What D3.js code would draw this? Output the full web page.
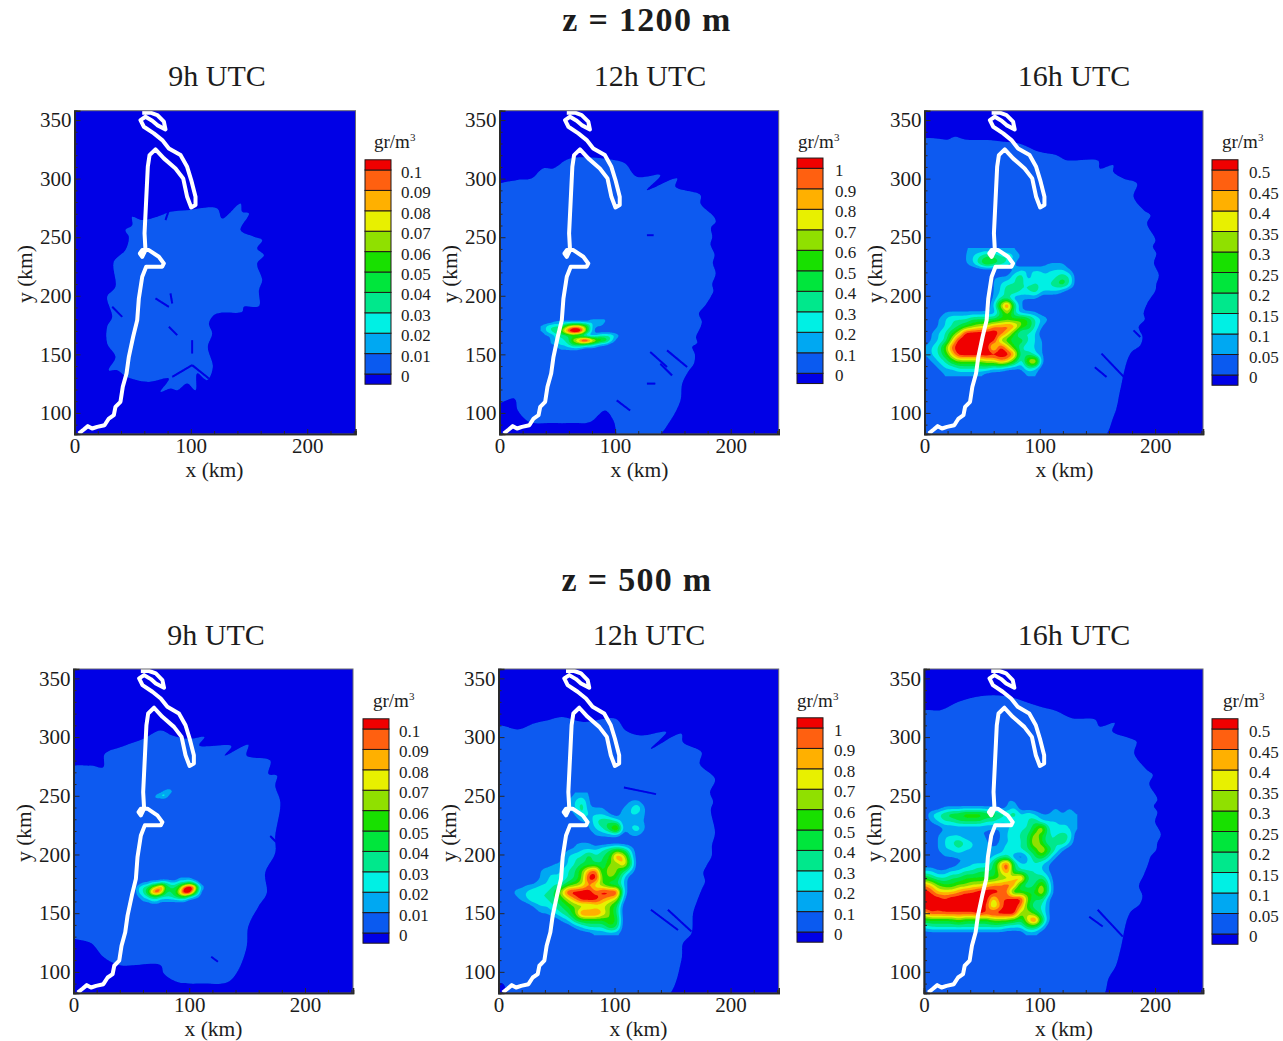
<!DOCTYPE html>
<html lang="en">
<head>
<meta charset="UTF-8">
<title>z = 1200 m / z = 500 m</title>
<script src="https://d3js.org/d3.v7.min.js"></script>
<style>
html, body { margin: 0; background: #fff; }
svg { display: block; }
text { font-family: "Liberation Serif", serif; fill: #1c1c1c; }
.axis path, .axis line { stroke: #2a2a2a; }
</style>
</head>
<body>
<div id="container"></div>
<script>
// colours of the legend cells, bottom to top
const bandColors = ["#0000e6", "#0a5af0", "#00a8f2", "#00f0e4", "#00e88c", "#00e63c", "#18e000",
                    "#90e000", "#e8f000", "#ffb000", "#ff6010", "#f00000"];

const xMajor = [0, 100, 200];
const xMinor = [20, 40, 60, 80, 120, 140, 160, 180, 220, 240];
const yMajor = [100, 150, 200, 250, 300, 350];
const yMinor = [90, 110, 120, 130, 140, 160, 170, 180, 190, 210, 220, 230, 240, 260, 270, 280, 290, 310, 320, 330, 340];

const ticksTenth = [0, 0.01, 0.02, 0.03, 0.04, 0.05, 0.06, 0.07, 0.08, 0.09, 0.1];
const ticksOne = [0, 0.1, 0.2, 0.3, 0.4, 0.5, 0.6, 0.7, 0.8, 0.9, 1];
const ticksHalf = [0, 0.05, 0.1, 0.15, 0.2, 0.25, 0.3, 0.35, 0.4, 0.45, 0.5];

// coastline, km
const coast = [[3.7,82.4],[8,85.8],[11.5,88.7],[15.2,86.7],[19.5,88.1],[25.8,89.5],[29.5,95.2],[33.8,98.1],[35.2,105.2],[39.5,109.5],
  [41.5,122.3],[44.7,133.7],[46.7,147.9],[50.4,165],[53.9,179.2],[55.3,197.7],[58.2,216.2],[61.6,224.8],[75.4,224.8],[76.8,227.6],
  [72.5,233.3],[63.9,239],[58.2,239],[56.2,236.1],[58.2,233.3],[61,239],[60.2,253.2],[61.6,281.7],[63,310.1],[64.5,320.1],[69.6,325],
  [76.8,317.3],[86.8,308.7],[93.4,300.2],[96.8,284.5],[100.3,275.4],[104,277.4],[104,284.5],[100.3,298.8],[96.8,310.1],[91.1,320.1],
  [81.1,325.8],[75.4,332.9],[68.2,338.6],[59.6,344.3],[56.7,350],[61,352.8],[66.8,349.4],[71.1,345.7],[78.2,342],[76.8,348.6],
  [71.1,354.3],[65.3,356.3],[58.2,356.3]];

// outer edge of the plume in each panel, km
const plume9hHigh = [[49.6,267.4],[58.2,264.6],[71.1,267.4],[82.5,271.7],[96.8,273.1],[122.6,274.6],[126.9,266],[142.7,278.8],[144.1,271.7],
  [149.9,270.3],[142.7,256.1],[154.2,250.4],[161.3,247.5],[157,240.4],[162.8,234.7],[157,227.6],[161.3,213.4],[158.5,204.8],[158.5,191.2],
  [145.6,190.6],[144.1,186.3],[125.5,185.5],[119.8,183.5],[115.5,176.4],[118.3,167.8],[114.6,156.4],[118.9,139.4],[114,128],[105.4,133.7],
  [104,119.4],[96.8,125.1],[88.3,119.4],[82.5,120.8],[73.9,118],[81.1,129.4],[62.5,126.5],[44.8,130.8],[36.7,136.5],[29.5,136.5],[35.2,147.9],
  [28.1,159.3],[28.1,173.5],[32.4,182],[28.1,199.1],[35.2,207.7],[33.8,229],[43.8,239],[46.7,250.4],[43.8,256.1],[49.6,260.3]];
const plume12hHigh = [[-6,291],[14.5,298.7],[27.5,300.1],[37.7,308.7],[46.4,308.7],[60.9,317.2],[100,315.8],[108.7,313],[118.8,301.6],[139.1,303],
  [127.5,290.2],[153.6,300.1],[152.2,293],[173.9,285.9],[173.9,278.8],[185.5,267.4],[187,263.1],[183,258],[184,250],[182.5,244],[186,235],[184.5,228],
  [187,219],[184,210],[185,204],[182.6,199],[178,192],[172.5,184.8],[175,178],[173.9,173.4],[170,165],[171,160],[166.7,156.3],[169,150],[168.1,142],
  [163,135],[158,124.9],[156.5,110.7],[147.8,93.6],[134,78],[104,78],[98.6,93.6],[91.3,102.1],[78.3,92.2],
  [63.8,91.3],[43.5,91.3],[26.1,92.2],[15.9,102.1],[13,112.1],[-6,109]];
const plume16hHigh = [[-6,331],[20.5,333.5],[26.3,335.8],[35.1,333.5],[54.1,332.9],[68.7,331.5],[81.9,330.1],[99.4,322.9],[114,320.1],[122.8,315.8],
  [150.6,315.2],[152,308.7],[163.7,311.5],[163.7,305.8],[172.5,300.1],[184.2,295.9],[181.3,284.5],[190.1,273.1],[195.9,268.8],[193,261.7],[200.3,247.4],
  [198,242],[201,236],[199,228],[203.2,217.5],[201,210],[200.3,204.7],[196,198],[193,193.3],[190,185],[191,180],[185.7,173.4],[189,165],[187.1,157.7],
  [178.4,150.6],[169.6,119.2],[166.7,105],[163.7,96.4],[152,76],[-8,76]];
const plume9hLow = [[-6,272],[14,275.7],[25.7,274.3],[27.1,285.7],[43.1,292.3],[60.6,298.6],[75.2,305.7],[85.4,301.4],[100,298.6],[113.1,300],
  [108.7,292.9],[136.4,292.3],[130.6,284.3],[151,293.4],[149.6,284.3],[170,280],[168.5,268.6],[175.8,267.1],[174.3,258.6],[178.7,244.3],[174.3,215.7],
  [174.3,201.4],[165.6,184.3],[167,167.1],[159.8,155.7],[151,138.6],[149.6,121.4],[142.3,101.4],[133.5,91.4],[110.2,90],[89.8,91.4],[78.1,98.6],
  [75.2,105.7],[40.2,105.7],[25.7,112.9],[15.5,124.3],[-6,133]];
const plume12hLow = [[-6,308],[18,306.6],[29.7,311.4],[42.7,314.3],[54.4,317.1],[73.3,312.9],[100.9,315.7],[109.6,305.7],[122.7,301.4],[144.5,304.3],
  [131.4,290],[157.6,302.9],[159,295.7],[175,287.1],[173.5,277.1],[186.6,264.3],[182.3,252.9],[185,245],[183,238],[186.6,218.6],[184,208],[183.7,198.6],
  [179,190],[176.5,184.3],[178,177],[175,170],[171,160],[167.7,150],[166.3,132.9],[159,124.3],[157.6,110],[142,76],[12,78],[3.5,90],[-6,91]];
const plume16hLow = [[-6,320],[15,323],[30,330],[50,335],[70,335],[85,331],[100,326],[115,322],[128,316],[148,315],[152,309],[165,312],[163,305],
  [178,299],[184,296],[182,286],[193,272],[198,268],[195,260],[202,247],[199,241],[202,236],[200,228],[205,217],[202,210],[201,204],[196,198],[194,192],
  [190,182],[186,173],[189,165],[187,158],[178,150],[170,119],[166,105],[160,95],[152,76],[-8,76]];

// thin gaps where the field drops back to zero: x1, y1, x2, y2 in km
const gaps9hHigh = [[69.6,197.7,81.1,190.6],[82.5,202,84,193.4],[81.1,173.5,88.3,166.4],[101.1,162.1,101.1,150.7],[84,130.8,101.1,140.8],
  [101.1,140.8,115.5,129.4],[32.4,190.6,41,182],[81.1,273.1,78.2,264.6]];
const gaps12hHigh = [[130.4,152,144.9,139.2],[144.9,153.4,162.3,139.2],[139.1,142,149.3,132],[127.5,125,134.8,125],[101.4,110.7,113,102.1],[127.5,251.7,133.3,251.7]];
const gaps16hHigh = [[153.5,150.6,176.9,126.6],[147.7,139,157.9,130.6],[181.3,170.5,187.1,164.8]];
const gaps9hLow = [[119,112.9,124.8,108.6],[170,215.7,175.8,210]];
const gaps12hLow = [[131.4,152.9,154.7,135.7],[146,152.9,166.3,134.3],[108.1,257,135.8,251.4]];
const gaps16hLow = [[150.3,152.9,172.1,130],[143,147,154.7,138.6]];

// fields above the first contour, in legend steps, north row first
const cloud12hHigh = [
  [0,0,0,0,0,0,0,0,0,0,0,0,0,0,0,0,0,0],
  [0,0,0,0,0,0,0,0,0,0,0,0,0,0,1,1,0,0],
  [0,0,0,1,1,1,1,1,1,1,1,2,2,2,1,0,0,0],
  [1,2,3,3,3,5,7,8,8,7,5,2,1,1,0,0,0,0],
  [1,2,3,4,5,8,11,13,13,10,5,2,0,0,0,0,0,0],
  [0,1,1,2,3,3,4,4,3,2,1,1,2,3,3,3,2,1],
  [0,0,1,2,3,3,4,7,9,12,12,9,7,6,5,3,1,0],
  [0,0,1,1,2,2,3,4,4,4,3,3,2,1,1,0,0,0],
  [0,0,0,0,1,1,1,1,1,0,0,0,0,0,0,0,0,0],
  [0,0,0,0,0,0,0,0,0,0,0,0,0,0,0,0,0,0]];
const cloud16hHigh = [
  [0,0,0,0,0,0,1,1,1,1,1,1,1,1,0,0,0,0,0,0,0,0,0],
  [0,0,0,0,0,0,1,2,3,4,4,3,3,2,1,0,0,0,0,0,0,0,0],
  [0,0,0,0,0,0,1,2,4,6,5,4,3,1,0,0,0,0,1,1,1,0,0],
  [0,0,0,0,0,0,0,0,0,0,0,0,0,1,2,2,2,2,2,2,2,1,0],
  [0,0,0,0,0,0,0,0,0,0,1,1,1,3,4,1,3,2,2,3,4,3,0],
  [0,0,0,0,0,0,0,0,0,0,1,2,3,3,3,3,3,3,3,4,5,3,0],
  [0,0,0,0,0,0,0,0,0,0,1,2,4,4,3,3,4,2,2,2,1,0,0],
  [0,0,0,0,0,0,0,0,0,0,1,3,3,1,1,1,1,0,0,0,0,0,0],
  [0,0,0,0,0,0,0,0,0,0,2,7,11,4,1,0,0,0,0,0,0,0,0],
  [0,0,0,1,1,1,1,1,1,1,1,4,7,3,1,1,1,0,0,0,0,0,0],
  [0,0,1,2,3,3,3,4,4,4,4,5,5,5,6,5,3,2,1,0,0,0,0],
  [0,0,1,2,3,4,5,6,7,7,9,9,10,9,6,5,3,1,0,0,0,0,0],
  [0,1,2,3,5,7,11,11,11,11,11,10,8,5,2,3,2,0,0,0,0,0,0],
  [0,1,2,3,7,11,11,11,11,11,11,6,5,4,5,3,2,1,0,0,0,0,0],
  [1,2,3,6,10,11,11,11,11,11,6,11,8,5,3,2,2,1,0,0,0,0,0],
  [1,2,3,5,8,11,11,11,11,11,11,11,11,9,3,4,2,1,0,0,0,0,0],
  [0,1,2,3,5,6,6,6,6,7,7,9,8,5,2,7,9,1,0,0,0,0,0],
  [0,0,1,2,2,3,3,3,3,3,2,2,1,1,1,3,2,0,0,0,0,0,0],
  [0,0,0,1,1,1,1,1,1,0,0,0,0,0,0,1,1,0,0,0,0,0,0]];
const cloud9hLow = [
  [0,0,0,0,0,0,0,0,0,0,0,0,0,0,0,0],
  [0,0,0,0,0,0,0,0,0,0,1,1,1,0,0,0],
  [0,0,1,1,2,2,3,3,2,2,3,3,4,3,1,0],
  [0,2,3,4,6,8,10,5,4,4,6,10,12,10,4,1],
  [0,2,3,5,9,11,8,4,4,5,8,12,12,7,3,0],
  [0,1,2,3,4,4,3,3,3,4,5,5,3,2,1,0],
  [0,0,1,1,2,2,1,1,1,1,1,1,0,0,0,0],
  [0,0,0,0,0,0,0,0,0,0,0,0,0,0,0,0]];
const streak9hLow = [
  [0,0,0,0,0,0],
  [0,0,0,1,2,1],
  [0,1,2,3,1,0],
  [1,1,0,0,0,0],
  [0,0,0,0,0,0]];
const cloud12hLow = [
  [0,0,0,0,0,0,0,0,0,0,0,1,1,1,0,0,0,0,0,0,0,0,0],
  [0,0,0,0,0,0,0,0,0,0,1,2,3,1,0,0,0,0,0,1,1,0,0],
  [0,0,0,0,0,0,0,0,1,1,1,2,4,1,1,1,0,0,1,2,3,1,0],
  [0,0,0,0,0,0,0,0,1,1,0,1,3,2,2,2,1,0,2,2,2,1,0],
  [0,0,0,0,0,0,0,0,0,0,0,0,1,1,3,4,4,3,1,2,1,1,0],
  [0,0,0,0,0,0,0,0,0,0,0,0,0,1,2,3,5,8,1,2,3,1,0],
  [0,0,0,0,0,0,0,0,0,0,0,0,0,0,1,1,1,1,0,1,1,0,0],
  [0,0,0,0,0,0,0,0,0,0,0,1,1,1,0,0,0,0,0,0,0,0,0],
  [0,0,0,0,0,0,0,0,0,0,1,1,2,2,2,3,4,5,4,2,0,0,0],
  [0,0,0,0,0,0,0,0,0,1,2,3,3,5,3,4,5,10,8,3,0,0,0],
  [0,0,0,0,0,0,0,0,1,1,2,3,4,4,4,4,6,6,9,4,0,0,0],
  [0,0,0,0,0,0,1,2,2,2,3,4,6,9,10,4,8,6,4,2,0,0,0],
  [0,0,0,0,0,0,1,2,2,2,3,4,6,11,11,5,6,5,2,0,0,0,0],
  [0,0,0,0,1,1,2,2,3,3,5,6,7,9,7,6,4,4,2,0,0,0,0],
  [0,0,1,2,2,3,3,3,4,7,11,11,11,11,9,11,11,11,2,0,0,0,0],
  [0,0,0,1,2,3,3,3,4,5,7,9,11,11,11,9,8,7,1,0,0,0,0],
  [0,0,0,0,0,1,2,2,3,4,5,6,6,6,7,7,6,4,0,0,0,0,0],
  [0,0,0,0,0,0,1,1,2,3,4,6,10,10,10,8,6,4,0,0,0,0,0],
  [0,0,0,0,0,0,0,0,0,1,2,4,5,5,5,5,6,5,0,0,0,0,0],
  [0,0,0,0,0,0,0,0,0,0,0,1,2,3,3,3,5,4,0,0,0,0,0],
  [0,0,0,0,0,0,0,0,0,0,0,0,0,0,1,1,1,1,0,0,0,0,0]];
const cloud16hLow = [
  [0,0,0,0,0,0,0,0,0,0,0,0,0,0,0,0,0,0,0,0,0,0,0],
  [0,0,0,0,0,0,0,0,0,0,0,0,1,0,0,0,0,0,0,0,0,0,0],
  [0,0,0,0,0,0,0,0,0,0,0,0,1,1,0,0,0,0,0,1,0,0,0],
  [0,0,0,1,1,1,1,1,1,1,1,0,1,2,0,0,0,0,0,1,0,1,0],
  [0,2,3,4,5,5,6,6,6,5,5,4,3,4,2,3,2,1,1,2,1,2,1],
  [0,1,2,3,3,4,4,4,4,3,3,2,2,2,2,3,4,2,2,2,2,2,1],
  [0,0,0,1,1,1,1,1,1,1,1,1,2,2,3,3,5,8,3,2,2,2,1],
  [0,0,1,2,2,2,1,1,1,1,0,1,2,3,3,4,7,5,3,3,4,3,0],
  [0,0,1,2,3,4,3,2,2,1,1,1,2,2,3,4,8,5,3,3,4,2,0],
  [0,0,1,2,2,3,2,2,1,1,1,1,3,3,3,4,5,8,5,3,1,0,0],
  [0,0,0,1,1,1,1,1,1,1,2,3,3,1,0,2,4,5,3,1,0,0,0],
  [0,0,0,0,0,1,1,2,2,2,4,8,11,4,2,2,3,2,1,0,0,0,0],
  [2,2,1,1,2,2,3,3,4,4,4,7,10,4,3,3,3,2,1,0,0,0,0],
  [5,4,3,3,4,4,5,5,5,5,5,6,6,8,10,4,3,4,2,0,0,0,0],
  [9,8,6,5,5,6,6,7,7,8,9,9,10,9,4,3,4,7,3,0,0,0,0],
  [11,10,8,8,8,9,10,10,11,11,11,10,9,4,5,5,5,8,3,0,0,0,0],
  [11,11,11,10,11,11,11,11,11,11,7,10,10,11,11,6,4,4,1,0,0,0,0],
  [11,11,10,11,11,11,11,11,11,10,6,9,11,11,9,5,3,3,1,0,0,0,0],
  [8,10,10,10,10,10,10,10,11,10,11,11,11,11,6,7,5,3,1,0,0,0,0],
  [5,5,5,5,5,6,5,5,5,5,6,6,6,5,4,8,11,5,1,0,0,0,0],
  [2,3,3,3,3,3,3,3,3,3,3,3,2,2,2,4,4,2,0,0,0,0,0],
  [0,0,0,0,0,0,0,0,0,0,0,0,0,0,0,1,1,0,0,0,0,0,0]];

const width = 1283, height = 1041;
const svg = d3.select("#container").append("svg").attr("width", width).attr("height", height);

svg.append("defs").append("filter").attr("id", "soft")
  .append("feGaussianBlur").attr("stdDeviation", 0.5);

// headings
const headings = [
  { text: "z = 1200 m", x: 647, y: 31 },
  { text: "z = 500 m", x: 637, y: 591 }
];
svg.selectAll(".heading").data(headings).enter().append("text")
  .attr("class", "heading")
  .attr("x", d => d.x).attr("y", d => d.y)
  .attr("text-anchor", "middle")
  .style("font-size", "34px").style("font-weight", "bold").style("letter-spacing", "1.3px")
  .text(d => d.text);

// round off the grid so the filled contours are not boxy
function refine(rows, f) {
  const m = rows.length, n = rows[0].length;
  const w = (n - 1) * f + 1, h = (m - 1) * f + 1;
  const data = new Float64Array(w * h);
  for (let j = 0; j < h; j++) {
    const r = Math.min(Math.floor(j / f), m - 2), v = j / f - r;
    for (let i = 0; i < w; i++) {
      const c = Math.min(Math.floor(i / f), n - 2), u = i / f - c;
      data[j * w + i] = (1 - v) * ((1 - u) * rows[r][c] + u * rows[r][c + 1])
        + v * ((1 - u) * rows[r + 1][c] + u * rows[r + 1][c + 1]);
    }
  }
  d3.blur2({ data, width: w, height: h }, 0.7);
  return { data, w, h };
}

const panels = [
  { title: "9h UTC", tx: 217, ty: 86, left: 74.5, right: 355.5, top: 110.7, bottom: 434, plume: plume9hHigh, gaps: gaps9hHigh, clouds: [],
    ticks: ticksTenth, lx: 365, lv0: 374, lvMax: 170, lt: 374, ltY: 148, ll: 401 },
  { title: "12h UTC", tx: 650, ty: 86, left: 499.5, right: 778.7, top: 110.7, bottom: 434, plume: plume12hHigh, gaps: gaps12hHigh,
    clouds: [{ rows: cloud12hHigh, x0: 36, yTop: 186, step: 4 }],
    ticks: ticksOne, lx: 797, lv0: 373.3, lvMax: 168.3, lt: 798, ltY: 148, ll: 835 },
  { title: "16h UTC", tx: 1074, ty: 86, left: 924.5, right: 1203, top: 110.7, bottom: 434, plume: plume16hHigh, gaps: gaps16hHigh,
    clouds: [{ rows: cloud16hHigh, x0: 0, yTop: 240, step: 6 }],
    ticks: ticksHalf, lx: 1212, lv0: 375, lvMax: 170, lt: 1222, ltY: 148, ll: 1249 },
  { title: "9h UTC", tx: 216, ty: 645, left: 73.5, right: 353, top: 669, bottom: 993, plume: plume9hLow, gaps: gaps9hLow,
    clouds: [{ rows: cloud9hLow, x0: 52, yTop: 184, step: 4 }, { rows: streak9hLow, x0: 66, yTop: 258, step: 4 }],
    ticks: ticksTenth, lx: 363, lv0: 933, lvMax: 729, lt: 373, ltY: 707, ll: 399 },
  { title: "12h UTC", tx: 649, ty: 645, left: 498.5, right: 778.7, top: 669, bottom: 993, plume: plume12hLow, gaps: gaps12hLow,
    clouds: [{ rows: cloud12hLow, x0: 0, yTop: 252, step: 6 }],
    ticks: ticksOne, lx: 797, lv0: 932, lvMax: 728, lt: 797, ltY: 707, ll: 834 },
  { title: "16h UTC", tx: 1074, ty: 645, left: 924, right: 1203, top: 669, bottom: 993, plume: plume16hLow, gaps: gaps16hLow,
    clouds: [{ rows: cloud16hLow, x0: 0, yTop: 258, step: 6 }],
    ticks: ticksHalf, lx: 1212, lv0: 934, lvMax: 729, lt: 1223, ltY: 707, ll: 1249 }
];

panels.forEach((p, i) => {
  const x = d3.scaleLinear().domain([0, 241.5]).range([p.left, p.right]);
  const y = d3.scaleLinear().domain([82, 358]).range([p.bottom, p.top]);
  const g = svg.append("g");

  g.append("text").attr("x", p.tx).attr("y", p.ty).attr("text-anchor", "middle")
    .style("font-size", "30px").text(p.title);

  g.append("clipPath").attr("id", "plot" + i).append("rect")
    .attr("x", p.left).attr("y", p.top).attr("width", p.right - p.left).attr("height", p.bottom - p.top);

  const field = g.append("g").attr("clip-path", `url(#plot${i})`).append("g").attr("filter", "url(#soft)");
  field.append("rect").attr("x", p.left - 2).attr("y", p.top - 2)
    .attr("width", p.right - p.left + 4).attr("height", p.bottom - p.top + 4).attr("fill", bandColors[0]);

  const line = d3.line().x(d => x(d[0])).y(d => y(d[1]));
  const round = d3.line().x(d => x(d[0])).y(d => y(d[1])).curve(d3.curveCatmullRomClosed.alpha(0.5));
  field.append("path").attr("d", round(p.plume)).attr("fill", bandColors[1]);

  field.selectAll(".gap").data(p.gaps).enter().append("line").attr("class", "gap")
    .attr("x1", d => x(d[0])).attr("y1", d => y(d[1]))
    .attr("x2", d => x(d[2])).attr("y2", d => y(d[3]))
    .attr("stroke", bandColors[0]).attr("stroke-width", 2);

  p.clouds.forEach(c => {
    const f = 4;
    const fine = refine(c.rows, f);
    const bands = d3.contours().size([fine.w, fine.h]).thresholds(d3.range(1, 11))(Array.from(fine.data));
    const path = d3.geoPath(d3.geoTransform({
      point(px, py) {
        this.stream.point(x(c.x0 + (px - 0.5) / f * c.step), y(c.yTop - (py - 0.5) / f * c.step));
      }
    }));
    field.selectAll(null).data(bands).enter().append("path")
      .attr("d", path).attr("fill", d => bandColors[d.value + 1]);
  });

  field.append("path").attr("d", line(coast)).attr("fill", "none")
    .attr("stroke", "#fff").attr("stroke-width", 4).attr("stroke-linejoin", "round");

  // frame and axes
  g.append("rect").attr("x", p.left).attr("y", p.top).attr("width", p.right - p.left).attr("height", p.bottom - p.top)
    .attr("fill", "none").attr("stroke", "#6a6a72").attr("stroke-width", 1);

  g.append("g").attr("class", "axis").attr("transform", `translate(0,${p.bottom})`)
    .call(d3.axisBottom(x).tickValues(xMinor).tickSize(-3).tickFormat(""));
  const xAxis = g.append("g").attr("class", "axis").attr("transform", `translate(0,${p.bottom})`)
    .call(d3.axisBottom(x).tickValues(xMajor).tickSize(-5).tickPadding(4).tickFormat(d3.format("d")));
  xAxis.selectAll("text").style("font-size", "21px");

  g.append("g").attr("class", "axis").attr("transform", `translate(${p.left},0)`)
    .call(d3.axisLeft(y).tickValues(yMinor).tickSize(-3).tickFormat(""));
  const yAxis = g.append("g").attr("class", "axis").attr("transform", `translate(${p.left},0)`)
    .call(d3.axisLeft(y).tickValues(yMajor).tickSize(-6).tickPadding(3).tickFormat(d3.format("d")));
  yAxis.selectAll("text").style("font-size", "21px");
  g.selectAll(".axis path.domain").attr("stroke-width", 1.6);
  g.selectAll(".axis text").attr("font-family", null);

  g.append("text").attr("x", p.left + 140).attr("y", p.bottom + 43).attr("text-anchor", "middle")
    .style("font-size", "21.5px").text("x (km)");
  g.append("text").attr("transform", `translate(${p.left - 43},${p.bottom - 160}) rotate(-90)`)
    .attr("text-anchor", "middle").style("font-size", "21.5px").text("y (km)");

  // legend
  const step = p.ticks[1] - p.ticks[0];
  const ly = d3.scaleLinear().domain([0, p.ticks[p.ticks.length - 1]]).range([p.lv0, p.lvMax]);
  const cells = [[-step / 2, 0]].concat(p.ticks.map(t => [t, t + (t === p.ticks[p.ticks.length - 1] ? step / 2 : step)]));
  g.selectAll(".cell").data(cells).enter().append("rect").attr("class", "cell")
    .attr("x", p.lx).attr("width", 26)
    .attr("y", d => ly(d[1])).attr("height", d => ly(d[0]) - ly(d[1]))
    .attr("fill", (d, k) => bandColors[k])
    .attr("stroke", "#201818").attr("stroke-width", 1);
  g.selectAll(".tlabel").data(p.ticks).enter().append("text").attr("class", "tlabel")
    .attr("x", p.ll).attr("y", d => ly(d) + 8)
    .style("font-size", "17px").text(d => d);

  const unit = g.append("text").attr("x", p.lt).attr("y", p.ltY).style("font-size", "19px").text("gr/m");
  unit.append("tspan").attr("dy", -7).style("font-size", "11px").text("3");
});
</script>
</body>
</html>
